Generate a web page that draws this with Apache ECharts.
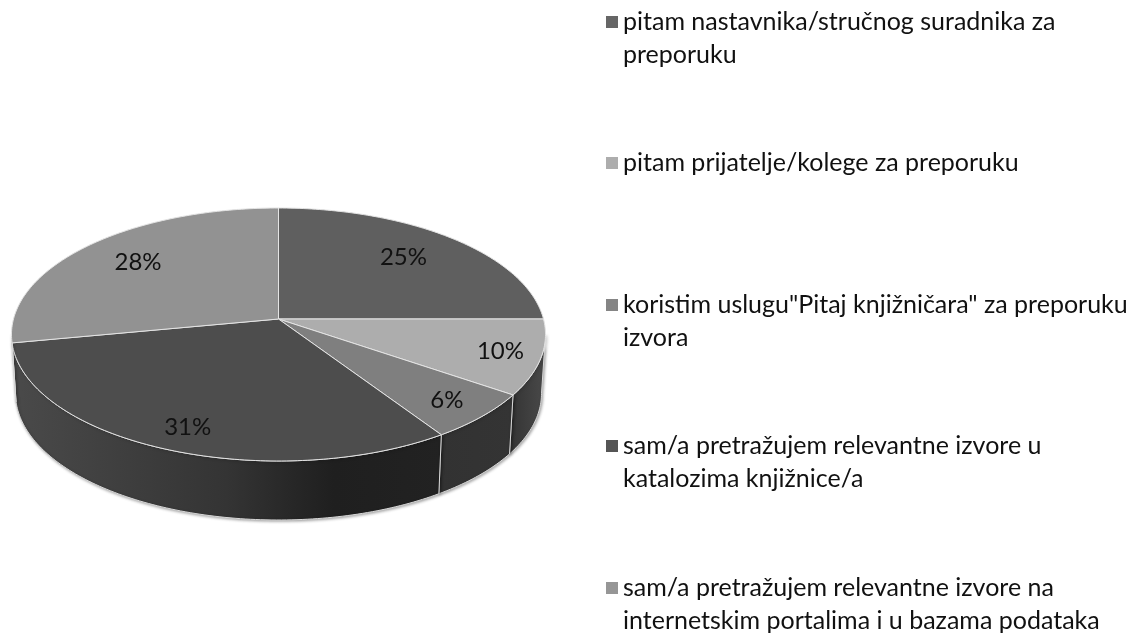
<!DOCTYPE html>
<html>
<head>
<meta charset="utf-8">
<title>Pie</title>
<style>
  html, body { margin: 0; padding: 0; background: #fff; }
  #chart { width: 1139px; height: 634px; }
</style>
</head>
<body>
<div id="chart"></div>
<script src="https://cdn.jsdelivr.net/npm/echarts@6/dist/echarts.min.js"></script>
<script>
// chart data (labels are rounded from these)
const categories = [
  'pitam nastavnika/stručnog suradnika za\npreporuku',
  'pitam prijatelje/kolege za preporuku',
  'koristim uslugu"Pitaj knjižničara" za preporuku\nizvora',
  'sam/a pretražujem relevantne izvore u\nkatalozima knjižnice/a',
  'sam/a pretražujem relevantne izvore na\ninternetskim portalima i u bazama podataka'
];
const shares = [25, 9.6, 6.1, 31.3, 28];

const topColors = ['#5f5f5f', '#adadad', '#7f7f7f', '#4d4d4d', '#929292'];
const swatchColors = ['#666666', '#adadad', '#858585', '#555555', '#969696'];
const wallStops = [
  [[0, '#3a3a3a'], [1, '#3a3a3a']],
  [[0, '#333333'], [1, '#4a4a4a']],
  [[0, '#323232'], [1, '#343434']],
  [[0, '#4a4a4a'], [0.5, '#343434'], [0.75, '#1f1f1f'], [1, '#222222']],
  [[0, '#4a4a4a'], [1, '#4a4a4a']]
];
const labelRadius = [0.75, 0.85, 0.85, 0.85, 0.76];
const labelShiftX = [-7, 0, -2, 6, 6];
const legendCentre = [22, 163, 305, 446, 588];

// perspective disc
const cx = 278.5, cy = 319, spanX = 265, spanY = 124.6, persp = 0.1225;
const wallDrop = 59, wallShrink = 0.985;
const wallFrom = 97, wallTo = 263;   // the part of the rim facing the viewer
const lineH = 33;
const fontFamily = 'Lato, "Noto Sans", sans-serif';

function project(deg, r) {
  const a = deg * Math.PI / 180;
  const u = Math.sin(a) * r, v = -Math.cos(a) * r;
  const w = 1 - persp * v;
  return [cx + spanX * u / w, cy + spanY * v / w];
}
function lower(p) {
  return [cx + (p[0] - cx) * wallShrink, p[1] + wallDrop];
}
function arc(from, to) {
  const pts = [];
  const n = Math.max(2, Math.ceil(to - from));
  for (let i = 0; i <= n; i++) pts.push(project(from + (to - from) * i / n, 1));
  return pts;
}

const total = shares.reduce((a, b) => a + b, 0);
const starts = [];
shares.reduce((acc, s, i) => { starts[i] = acc; return acc + s; }, 0);

function renderSlice(idx) {
  return function () {
    const from = starts[idx] / total * 360;
    const to = (starts[idx] + shares[idx]) / total * 360;
    const children = [];

    const wa = Math.max(from, wallFrom), wb = Math.min(to, wallTo);
    if (wb > wa) {
      const rim = arc(wa, wb);
      children.push({
        type: 'polygon',
        shape: { points: rim.concat(rim.map(lower).reverse()) },
        style: {
          fill: new echarts.graphic.LinearGradient(0, 0, 1, 0,
            wallStops[idx].map(s => ({ offset: s[0], color: s[1] }))),
          stroke: '#d8d8d8',
          lineWidth: 1,
          shadowBlur: 3,
          shadowOffsetX: 1,
          shadowOffsetY: 1,
          shadowColor: 'rgba(0,0,0,0.35)'
        }
      });
    }

    children.push({
      type: 'polygon',
      shape: { points: [[cx, cy]].concat(arc(from, to)) },
      style: { fill: topColors[idx], stroke: '#e4e4e4', lineWidth: 1, lineJoin: 'round' }
    });

    const lp = project((from + to) / 2, labelRadius[idx]);
    children.push({
      type: 'text',
      x: lp[0] + labelShiftX[idx],
      y: lp[1],
      z2: 10,
      style: {
        text: Math.round(shares[idx] / total * 100) + '%',
        fill: '#111',
        font: '24px ' + fontFamily,
        align: 'center',
        verticalAlign: 'middle'
      }
    });
    return { type: 'group', children: children };
  };
}

const chart = echarts.init(document.getElementById('chart'));
chart.setOption({
  animation: false,
  backgroundColor: '#fff',
  legend: categories.map((name, i) => {
    const two = name.indexOf('\n') >= 0;
    return {
      data: [name],
      left: 606,
      // two-line entries get a blank first line so the swatch sits on the first real line
      top: legendCentre[i] - (two ? lineH * 1.5 : lineH / 2),
      formatter: n => (two ? '\n' + n : n),
      icon: 'rect',
      itemWidth: 12,
      itemHeight: 12,
      padding: 0,
      selectedMode: false,
      textStyle: {
        fontFamily: fontFamily,
        fontSize: 25,
        lineHeight: lineH,
        color: '#111'
      }
    };
  }),
  series: categories.map((name, i) => ({
    type: 'custom',
    name: name,
    coordinateSystem: 'none',
    silent: true,
    itemStyle: { color: swatchColors[i] },
    data: [shares[i]],
    renderItem: renderSlice(i)
  }))
});
</script>
</body>
</html>
